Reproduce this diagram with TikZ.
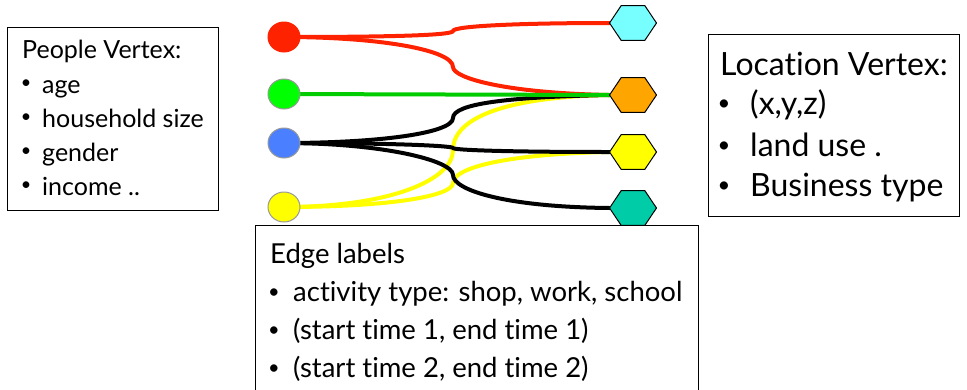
\documentclass[tikz,border=0pt]{standalone}
\usepackage{fontspec}
\setmainfont{Lato}[Ligatures=NoCommon]
\usetikzlibrary{shapes.geometric,backgrounds}
\definecolor{cred}{HTML}{FF2200}
\definecolor{cgreen}{HTML}{00FF00}
\definecolor{cgreenline}{HTML}{00CC00}
\definecolor{cblue}{HTML}{4A80FF}
\definecolor{cyellow}{HTML}{FFFF00}
\definecolor{ccyan}{HTML}{77FFFF}
\definecolor{corange}{HTML}{FFA500}
\definecolor{cteal}{HTML}{00CCA8}
\definecolor{cring}{HTML}{999999}
\newcommand{\smallbul}[2]{{\fontsize{#1}{#1}\selectfont\raisebox{#2}{•}}}
\tikzset{
  vtx/.style={ellipse, minimum width=32pt, minimum height=30pt, inner sep=0pt, outer sep=0pt, draw=cring, line width=1pt},
  hexnode/.style={regular polygon, regular polygon sides=6, minimum size=40.4pt, inner sep=0pt, outer sep=0pt, draw=black, line width=1pt, xscale=1.163, transform shape},
  wire/.style={line width=4pt, line cap=round},
  infobox/.style={draw=black, fill=white, line width=1.2pt},
  ptxt/.style={anchor=base west, inner sep=0pt, font=\fontsize{25}{30}\selectfont},
  pbul/.style={anchor=base, inner sep=0pt},
  ltxt/.style={anchor=base west, inner sep=0pt, font=\fontsize{32}{38}\selectfont},
  lbul/.style={anchor=base, inner sep=0pt},
  etxt/.style={anchor=base west, inner sep=0pt, font=\fontsize{27.5}{33}\selectfont},
  ebul/.style={anchor=base, inner sep=0pt},
}
\begin{document}
\begin{tikzpicture}[x=1pt,y=-1pt]
\useasboundingbox (0,0) rectangle (967,389);
\clip (0,0) rectangle (967,389);
% people vertices
\node[vtx, fill=cred, draw=cred] (c1) at (284,37) {};
\node[vtx, fill=cgreen] (c2) at (284,94) {};
\node[vtx, fill=cblue] (c3) at (284,143) {};
\node[vtx, fill=cyellow] (c4) at (284,207) {};
% location vertices
\node[hexnode, fill=ccyan] (h1) at (633,23) {};
\node[hexnode, fill=corange] (h2) at (633,95) {};
\node[hexnode, fill=cyellow] (h3) at (633,152) {};
\node[hexnode, fill=cteal] (h4) at (633,208) {};
% edges
\begin{scope}[on background layer]
\draw[wire, cred] (c1.center) .. controls (400,37) and (453,35) .. (453,31) .. controls (453,26) and (520,23) .. (h1.west);
\draw[wire, cred] (c1.center) .. controls (380,37) and (453,50) .. (453,67) .. controls (453,78) and (505,93) .. (h2.west);
\draw[wire, cyellow] (c4.center) .. controls (390,207) and (453,180) .. (453,150) .. controls (453,118) and (505,97) .. (h2.west);
\draw[wire, cyellow] (c4.center) .. controls (390,207) and (453,196) .. (453,183) .. controls (453,168) and (505,154) .. (h3.west);
\draw[wire, black] (c3.center) .. controls (380,143) and (453,133) .. (453,118) .. controls (453,104) and (505,97) .. (h2.west);
\draw[wire, black] (c3.center) .. controls (400,143) and (453,146) .. (453,148) .. controls (453,150) and (505,152) .. (h3.west);
\draw[wire, black] (c3.center) .. controls (380,143) and (453,160) .. (453,175) .. controls (453,190) and (505,207) .. (h4.west);
\draw[wire, cgreenline] (c2.center) -- (h2.west);
\end{scope}
% people box
\node[infobox, anchor=north west, minimum width=211pt, minimum height=183pt, inner sep=0pt] (pbox) at (7,27) {};
\node[ptxt] (pt) at (22,58) {People Vertex:};
\node[pbul] (pb1) at (26,93) {\smallbul{18}{5pt}};
\node[ptxt] (p1) at (42,93) {age};
\node[pbul] (pb2) at (26,127) {\smallbul{18}{5pt}};
\node[ptxt] (p2) at (42,127) {household size};
\node[pbul] (pb3) at (26,161) {\smallbul{18}{5pt}};
\node[ptxt] (p3) at (42,161) {gender};
\node[pbul] (pb4) at (26,195) {\smallbul{18}{5pt}};
\node[ptxt] (p4) at (42,195) {income ..};
% location box
\node[infobox, anchor=north west, minimum width=251pt, minimum height=182pt, inner sep=0pt] (lbox) at (708,34) {};
\node[ltxt] (lt) at (720,75) {Location Vertex:};
\node[lbul] (lb1) at (724,114) {\smallbul{22}{3.5pt}};
\node[ltxt] (l1) at (750,114) {(x,y,z)};
\node[lbul] (lb2) at (724,156) {\smallbul{22}{3.5pt}};
\node[ltxt] (l2) at (750,156) {land use .};
\node[lbul] (lb3) at (724,196) {\smallbul{22}{3.5pt}};
\node[ltxt] (l3) at (750,196) {Business type};
% edge box
\node[infobox, anchor=north west, minimum width=443pt, minimum height=180pt, inner sep=0pt] (ebox) at (255,225) {};
\node[etxt] (et) at (270,263) {Edge labels};
\node[ebul] (eb1) at (274,301) {\smallbul{20}{3pt}};
\node[etxt] (e1) at (293,301) {activity type: shop, work, school};
\node[ebul] (eb2) at (274,339) {\smallbul{20}{3pt}};
\node[etxt] (e2) at (293,339) {(start time 1, end time 1)};
\node[ebul] (eb3) at (274,377) {\smallbul{20}{3pt}};
\node[etxt] (e3) at (293,377) {(start time 2, end time 2)};
\end{tikzpicture}
\end{document}
